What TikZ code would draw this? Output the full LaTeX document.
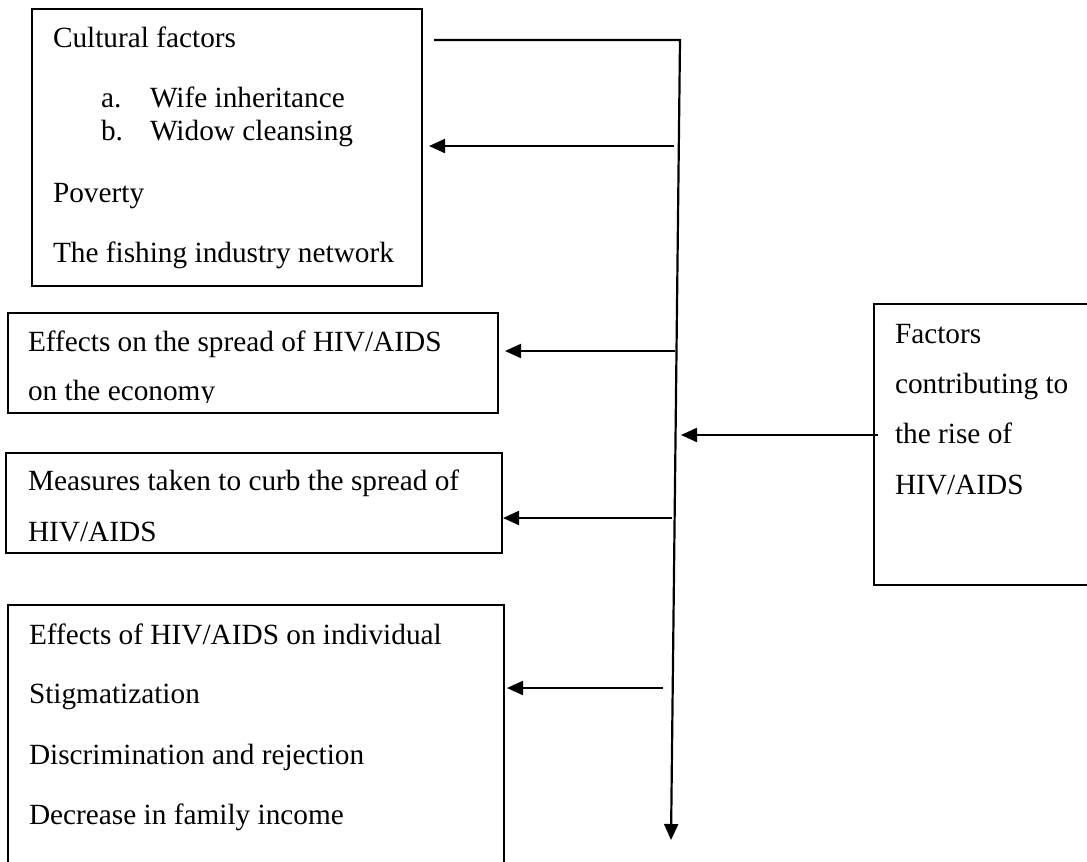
\documentclass[tikz,border=0pt]{standalone}
\usepackage{fontspec}
\setmainfont{Liberation Serif}
\usetikzlibrary{arrows.meta,calc}
\begin{document}
\begin{tikzpicture}[x=1pt,y=-1pt,
  box/.style={draw=black,line width=1.3pt,rectangle,inner sep=0pt,outer sep=0pt},
  txt/.style={anchor=base west,inner sep=0pt,outer sep=0pt,font=\fontsize{29.3}{35}\selectfont},
  conn/.style={line width=2.2pt,draw=black},
  arr/.style={conn,-{Triangle[length=16pt,width=14pt]}}]
\clip (0,0) rectangle (1087,862);
\fill[white] (0,0) rectangle (1087,862);
% boxes
\node[box,minimum width=390pt,minimum height=277pt] (b1) at (227,147.5) {};
\node[box,minimum width=490pt,minimum height=100pt] (b2) at (253,363) {};
\node[box,minimum width=496pt,minimum height=100pt] (b3) at (254,503) {};
\node[box,minimum width=496pt,minimum height=290pt] (b4) at (256,750) {};
\node[box,minimum width=240pt,minimum height=281pt] (f) at (994,444.5) {};
% texts box 1
\node[txt] (t11) at (53,47) {Cultural factors};
\node[txt] (t12a) at (101,107) {a.};
\node[txt] (t12) at (150,107) {Wife inheritance};
\node[txt] (t13a) at (101,140) {b.};
\node[txt] (t13) at (150,140) {Widow cleansing};
\node[txt] (t14) at (53,202) {Poverty};
\node[txt] (t15) at (53,262) {The fishing industry network};
% box 2
\node[txt] (t21) at (28,351) {Effects on the spread of HIV/AIDS};
\begin{scope}
\clip (0,0) rectangle (1087,402);
\node[txt] (t22) at (28,400) {on the economy};
\end{scope}
% box 3
\node[txt] (t31) at (28,490) {Measures taken to curb the spread of};
\node[txt] (t32) at (28,541) {HIV/AIDS};
% box 4
\node[txt] (t41) at (29,644) {Effects of HIV/AIDS on individual};
\node[txt] (t42) at (29,703) {Stigmatization};
\node[txt] (t43) at (29,764) {Discrimination and rejection};
\node[txt] (t44) at (29,824) {Decrease in family income};
% right box
\node[txt] (tf1) at (895,343) {Factors};
\node[txt] (tf2) at (895,393) {contributing to};
\node[txt] (tf3) at (895,443) {the rise of};
\node[txt] (tf4) at (895,494) {HIV/AIDS};
% connectors
\coordinate (s0) at (434,40);
\coordinate (corner) at (680,40);
\coordinate (spend) at (671,840);
\draw[arr] (s0) -- (corner) -- (spend);
\coordinate (a1) at (674,146);
\coordinate (a2) at (675,351);
\coordinate (a3) at (672,518);
\coordinate (a4) at (663,688);
\draw[arr,shorten >=7pt] (a1) -- (a1 -| b1.east);
\draw[arr,shorten >=7pt] (a2) -- (a2 -| b2.east);
\draw[arr,shorten >=1pt] (a3) -- (a3 -| b3.east);
\draw[arr,shorten >=3pt] (a4) -- (a4 -| b4.east);
\coordinate (af) at (878,435);
\coordinate (afe) at (681,435);
\draw[arr] (af) -- (afe);
\end{tikzpicture}
\end{document}
